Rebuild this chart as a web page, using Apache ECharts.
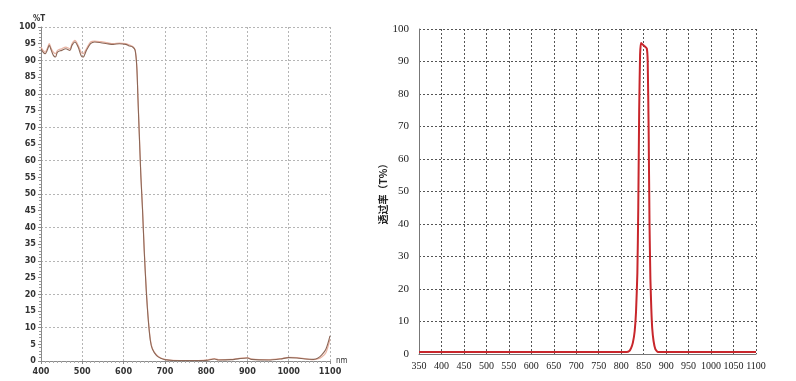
<!DOCTYPE html>
<html><head><meta charset="utf-8">
<script src="https://cdn.jsdelivr.net/npm/echarts@6/dist/echarts.min.js"></script>
<style>html,body{margin:0;padding:0;background:#fff}#c{width:796px;height:381px}</style>
</head><body><div id="c"></div>
<script>
// Left chart: short-pass filter transmission (%T vs nm)
const leftWavelength = [400,405,410,415,420,425,430,435,440,450,460,470,475,482,490,497,502,510,520,530,545,560,575,590,605,615,622,628,632,635,638,642,646,650,655,660,665,670,680,690,700,720,760,800,820,830,860,880,900,910,950,980,1000,1020,1040,1060,1070,1080,1090,1100];
const leftT1 = [93.5,92.5,92,93,94.5,93,91.5,91,92.5,93,93.5,93,94.5,95.5,94,91.5,91,93,95,95.5,95.3,95,94.8,95,94.8,94.3,94,93,88,78,68,55,45,33,21,12,6,3.5,1.6,0.8,0.4,0.15,0.1,0.2,0.6,0.3,0.4,0.7,0.9,0.5,0.3,0.6,1.0,0.9,0.6,0.5,0.8,1.8,3.5,7.5];
const leftT2 = [94,93,92.5,93.5,95,93.5,92.5,92,93,93.5,94,93.5,95,96,94.5,92.5,92,93.5,95.5,95.8,95.6,95.3,95,95.2,95,94.6,94.2,93.2,88.5,78.5,68.5,55.5,45.5,33.5,21.5,12.5,6.3,3.7,1.8,0.9,0.5,0.2,0.15,0.3,0.7,0.4,0.5,0.8,1.0,0.6,0.4,0.7,1.1,1.0,0.7,0.4,0.6,1.2,2.5,6.5];
const leftXTicks = [400,1100,100];
const leftYTicks = [0,100,5];

// Right chart: 850 nm band-pass transmission
const rightWavelength = [350,400,500,600,700,800,812,818,822,826,830,833,836,838,840,842,844,848,853,857,859,861,863,865,867,869,872,876,882,900,1000,1100];
const rightT = [0.6,0.6,0.6,0.6,0.6,0.6,0.6,0.9,1.8,3.5,7,13,25,45,75,92,95.7,95.2,94.6,94,90,70,40,23,14,8,4,1.5,0.6,0.6,0.6,0.6];
const rightXTicks = [350,1100,50];
const rightYTicks = [0,100,10];
const rightYName = '透过率（T%）';

const pairs = (xs, ys) => xs.map((x, i) => [x, ys[i]]);
const narrow = "'Liberation Sans Narrow','DejaVu Sans Condensed','Liberation Sans',sans-serif";
const serifN = "'Liberation Serif',serif";
const plain = v => String(v);

const chart = echarts.init(document.getElementById('c'), null, {renderer:'canvas'});
chart.setOption({
  animation:false,
  backgroundColor:'#fff',
  grid:[
    {left:41, top:27, width:289, height:334},
    {left:419, top:29, width:337, height:325}
  ],
  xAxis:[
    {type:'value', gridIndex:0, min:leftXTicks[0], max:leftXTicks[1], interval:leftXTicks[2],
     name:'nm', nameLocation:'end', nameGap:6,
     nameTextStyle:{fontSize:8, color:'#333', fontFamily:narrow, padding:[16,0,0,0]},
     axisLine:{show:true, lineStyle:{color:'#8a8a8a', width:1}},
     axisTick:{show:true, length:3, lineStyle:{color:'#8a8a8a'}},
     minorTick:{show:true, splitNumber:10, length:2, lineStyle:{color:'#aaa'}},
     axisLabel:{fontSize:9, color:'#333', fontFamily:narrow, fontWeight:'bold', margin:6, formatter:plain, showMaxLabel:true, showMinLabel:true},
     splitLine:{show:true, lineStyle:{color:'#b5b5b5', type:[2,2], width:1}}},
    {type:'value', gridIndex:1, min:rightXTicks[0], max:rightXTicks[1], interval:rightXTicks[2],
     axisLine:{show:true, lineStyle:{color:'#777', width:1}},
     axisTick:{show:false},
     axisLabel:{fontSize:10, color:'#222', fontFamily:serifN, margin:7, formatter:plain, showMaxLabel:true, showMinLabel:true, hideOverlap:false},
     splitLine:{show:true, lineStyle:{color:'#555', type:[2,2], width:1}}}
  ],
  yAxis:[
    {type:'value', gridIndex:0, min:leftYTicks[0], max:leftYTicks[1], interval:leftYTicks[2],
     name:'%T', nameLocation:'end', nameGap:3,
     nameTextStyle:{fontSize:8, color:'#333', fontFamily:narrow, fontWeight:'bold', align:'center', padding:[0,0,0,-4]},
     axisLine:{show:true, lineStyle:{color:'#8a8a8a', width:1}},
     axisTick:{show:true, length:3, lineStyle:{color:'#8a8a8a'}},
     minorTick:{show:true, splitNumber:5, length:2, lineStyle:{color:'#999'}},
     axisLabel:{fontSize:9, color:'#333', fontFamily:narrow, fontWeight:'bold', margin:5},
     splitLine:{show:false}},
    {type:'value', gridIndex:0, min:0, max:100, interval:10, position:'left',
     axisLine:{show:false}, axisTick:{show:false}, axisLabel:{show:false},
     splitLine:{show:true, lineStyle:{color:'#b5b5b5', type:[2,2], width:1}}},
    {type:'value', gridIndex:1, min:rightYTicks[0], max:rightYTicks[1], interval:rightYTicks[2],
     name:rightYName, nameLocation:'middle', nameRotate:90, nameGap:26,
     nameTextStyle:{fontSize:10, color:'#222', fontFamily:"'Noto Sans CJK SC',sans-serif", fontWeight:'bold'},
     axisLine:{show:true, lineStyle:{color:'#777', width:1}},
     axisTick:{show:false},
     axisLabel:{fontSize:11, color:'#222', fontFamily:serifN, margin:10},
     splitLine:{show:true, lineStyle:{color:'#555', type:[2,2], width:1}}}
  ],
  series:[
    {type:'line', xAxisIndex:0, yAxisIndex:0, data:pairs(leftWavelength, leftT2), smooth:0.3,
     showSymbol:false, lineStyle:{color:'#e9b4a4', width:1.2}, z:3},
    {type:'line', xAxisIndex:0, yAxisIndex:0, data:pairs(leftWavelength, leftT1), smooth:0.3,
     showSymbol:false, lineStyle:{color:'#8c6656', width:1.1}, z:4},
    {type:'line', xAxisIndex:1, yAxisIndex:2, data:pairs(rightWavelength, rightT), smooth:0.15,
     showSymbol:false, lineStyle:{color:'#c8262b', width:2}, z:4}
  ]
});
</script></body></html>
